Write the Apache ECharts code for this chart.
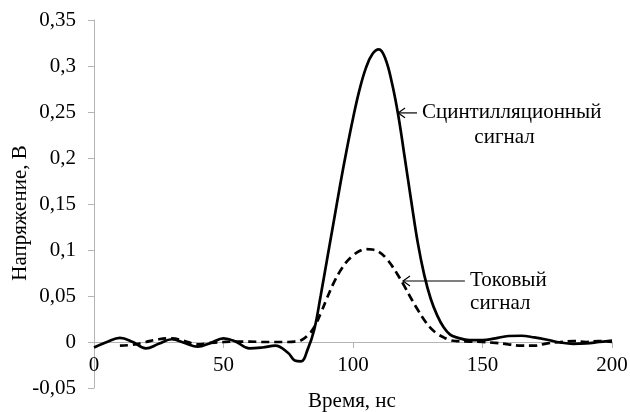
<!DOCTYPE html>
<html>
<head>
<meta charset="utf-8">
<script src="https://cdn.jsdelivr.net/npm/echarts@6/dist/echarts.min.js"></script>
<style>
  html, body { margin: 0; padding: 0; background: #fff; }
  #chart { width: 630px; height: 412px; }
</style>
</head>
<body>
<div id="chart"></div>
<script>
// Scintillation signal: time (ns) and voltage (V)
var scintTime = [0, 5, 10, 15, 20, 25, 30, 35, 40, 45, 50, 55, 60, 65, 70, 75,
  77.5, 80, 82.5, 85, 87.5, 90, 92.5, 95, 97.5, 100, 102.5, 105, 107.5, 110, 112.5, 115, 117.5, 120,
  122.5, 125, 127.5, 130, 132.5, 135, 137.5, 140,
  145, 150, 155, 160, 165, 170, 175, 180, 185, 190, 195, 200];
var scintVolt = [-0.006, 0.0, 0.0045, 0.0, -0.007, -0.002, 0.003, -0.001, -0.005, -0.001, 0.004, 0.0, -0.007, -0.006, -0.004, -0.012,
  -0.02, -0.021, -0.008, 0.013, 0.05, 0.09, 0.13, 0.17, 0.208, 0.243, 0.274, 0.298, 0.313, 0.318, 0.308, 0.282, 0.246, 0.2,
  0.153, 0.108, 0.073, 0.047, 0.029, 0.016, 0.008, 0.005,
  0.002, 0.002, 0.004, 0.0065, 0.0068, 0.005, 0.0025, -0.0005, -0.002, -0.0015, 0.0, 0.0015];

// Current signal: time (ns) and voltage (V)
var currTime = [10, 15, 20, 25, 30, 35, 40, 45, 50, 55, 60, 65, 70, 75,
  77.5, 80, 82.5, 85, 87.5, 90, 92.5, 95, 97.5, 100, 102.5, 105, 107.5, 110, 112.5, 115, 117.5, 120,
  122.5, 125, 127.5, 130, 132.5, 135, 137.5, 140,
  145, 150, 155, 160, 165, 170, 175, 180, 185, 190, 195, 200];
var currVolt = [-0.004, -0.003, 0.0, 0.003, 0.004, 0.001, -0.0025, -0.001, 0.0, 0.0005, 0.0005, 0.0, 0.0, 0.0,
  0.0005, 0.002, 0.007, 0.016, 0.031, 0.048, 0.064, 0.077, 0.087, 0.094, 0.099, 0.101, 0.1005, 0.098, 0.092, 0.083, 0.072, 0.06,
  0.047, 0.035, 0.024, 0.015, 0.009, 0.005, 0.002, 0.001,
  0.0005, 0.0, -0.001, -0.0025, -0.004, -0.004, -0.0015, 0.0, 0.001, 0.0, 0.001, 0.0];

var xTicks = [0, 50, 100, 150, 200];
var yTicks = [-0.05, 0, 0.05, 0.1, 0.15, 0.2, 0.25, 0.3, 0.35];

var xTitle = 'Время, нс';
var yTitle = 'Напряжение, В';
var scintLabel = ['Сцинтилляционный', 'сигнал'];
var currLabel = ['Токовый', 'сигнал'];

function pairs(t, v) {
  return t.map(function (x, i) { return [x, v[i]]; });
}

var FONT = '"Liberation Serif", "Times New Roman", serif';
var FS = 21;
var axisGrey = '#b4b4b4';

var GRID_TOP = 20, GRID_BOTTOM = 24, H = 412;
// the time axis crosses the voltage axis at zero: lift it by the height of one step below zero
var plotH = H - GRID_TOP - GRID_BOTTOM;
var zeroLift = plotH * (0 - yTicks[0]) / (yTicks[yTicks.length - 1] - yTicks[0]);

var chart = echarts.init(document.getElementById('chart'), null, { renderer: 'canvas' });

chart.setOption({
  animation: false,
  backgroundColor: '#ffffff',
  grid: { left: 94, right: 18, top: GRID_TOP, bottom: GRID_BOTTOM, containLabel: false, outerBoundsMode: 'none' },
  xAxis: {
    type: 'value',
    min: xTicks[0], max: xTicks[xTicks.length - 1], interval: 50,
    offset: -zeroLift,
    axisLine: { onZero: false, lineStyle: { color: axisGrey, width: 1 } },
    axisTick: { show: true, inside: false, length: 6, lineStyle: { color: axisGrey } },
    axisLabel: { fontFamily: FONT, fontSize: FS, color: '#000', margin: 13 },
    splitLine: { show: false }
  },
  yAxis: {
    type: 'value',
    min: yTicks[0], max: yTicks[yTicks.length - 1], interval: 0.05,
    axisLine: { show: true, lineStyle: { color: axisGrey, width: 1 } },
    axisTick: { show: true, inside: false, length: 6, lineStyle: { color: axisGrey } },
    axisLabel: {
      fontFamily: FONT, fontSize: FS, color: '#000', margin: 18,
      formatter: function (v) { return String(+v.toFixed(2)).replace('.', ','); }
    },
    splitLine: { show: false }
  },
  series: [
    {
      name: scintLabel.join(' '),
      type: 'line',
      data: pairs(scintTime, scintVolt),
      smooth: 0.4,
      showSymbol: false,
      lineStyle: { color: '#000', width: 2.7, type: 'solid' },
      z: 3
    },
    {
      name: currLabel.join(' '),
      type: 'line',
      data: pairs(currTime, currVolt),
      smooth: 0.4,
      showSymbol: false,
      lineStyle: { color: '#000', width: 2.7, type: [8, 5] },
      z: 2
    }
  ]
});

// Annotations with arrows, anchored in data coordinates
function px(t, v) { return chart.convertToPixel({ gridIndex: 0 }, [t, v]); }

function arrow(tip, tail) {
  var h = 7;
  return [
    { type: 'line', shape: { x1: tip[0], y1: tip[1], x2: tail[0], y2: tail[1] },
      style: { stroke: '#000', lineWidth: 1.2 }, z: 10 },
    { type: 'polyline', shape: { points: [[tip[0] + h, tip[1] - h * 0.7], [tip[0], tip[1]], [tip[0] + h, tip[1] + h * 0.7]] },
      style: { stroke: '#000', lineWidth: 1.2, fill: null }, z: 10 }
  ];
}

function label(text, p, align, rotation) {
  return { type: 'text', x: p[0], y: p[1], z: 10, rotation: rotation || 0,
    style: { text: text, font: FS + 'px ' + FONT, fill: '#000', align: align, verticalAlign: 'middle' } };
}

var s1Tip = px(117.4, 0.249), s1Tail = px(124.7, 0.249);
var c1Tip = px(119.3, 0.0663), c1Tail = px(143.2, 0.0663);

var elements = []
  .concat(arrow(s1Tip, s1Tail))
  .concat(arrow(c1Tip, c1Tail))
  .concat([
    label(scintLabel[0], px(126.6, 0.249), 'left'),
    label(scintLabel[1], px(158.5, 0.222), 'center'),
    label(currLabel[0], px(145.2, 0.0674), 'left'),
    label(currLabel[1], px(145.2, 0.042), 'left'),
    // axis titles
    label(xTitle, [352, 401], 'center'),
    label(yTitle, [20, 213], 'center', Math.PI / 2)
  ]);

chart.setOption({ graphic: { elements: elements } });
</script>
</body>
</html>
